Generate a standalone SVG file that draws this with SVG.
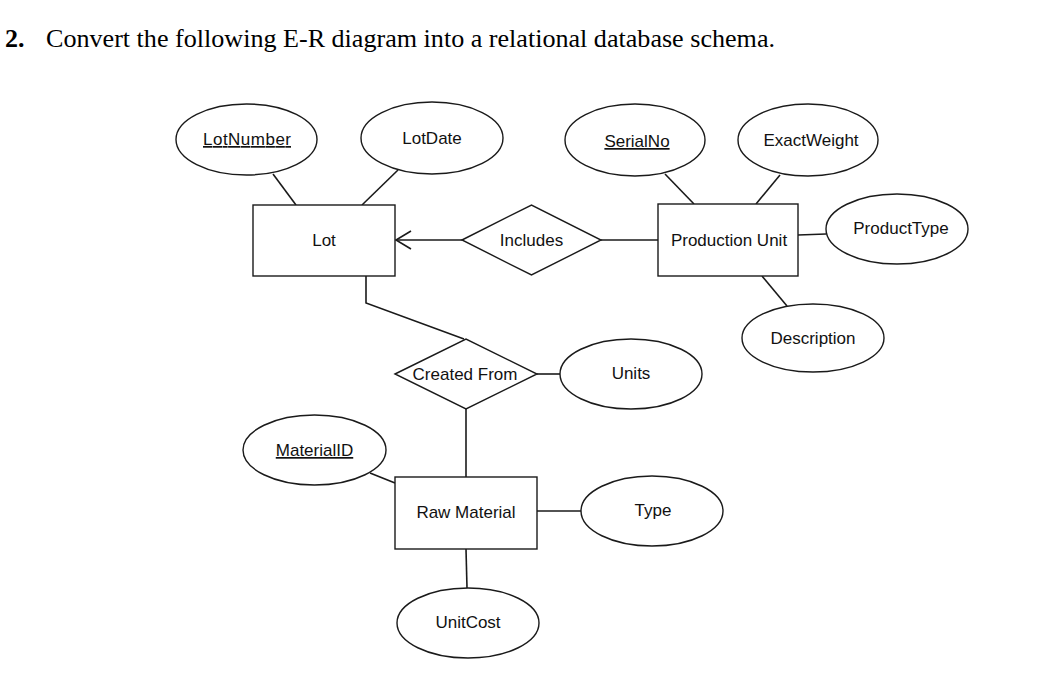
<svg xmlns="http://www.w3.org/2000/svg" width="1054" height="679" viewBox="0 0 1054 679">
<style>
.s{fill:#fff;stroke:#1a1a1a;stroke-width:1.4}
.c{fill:none;stroke:#1a1a1a;stroke-width:1.6}
.t{font-family:"Liberation Sans",Arial,sans-serif;font-size:17px;fill:#111;text-anchor:middle}
.u{text-decoration:underline}
.h{font-family:"Liberation Serif","Times New Roman",serif;font-size:26px;fill:#000}
</style>
<rect width="1054" height="679" fill="#fff"/>
<text class="h" x="5" y="47"><tspan font-weight="bold">2.</tspan></text>
<text class="h" x="46" y="47" textLength="729" lengthAdjust="spacingAndGlyphs">Convert the following E-R diagram into a relational database schema.</text>
<g id="connectors">
<line class="c" x1="273" y1="174" x2="296" y2="205"/>
<line class="c" x1="398" y1="170" x2="362" y2="205"/>
<line class="c" x1="462" y1="240" x2="396" y2="240"/>
<polyline class="c" points="411,231 396,240 411,249"/>
<line class="c" x1="601" y1="240" x2="658" y2="240"/>
<line class="c" x1="665" y1="174" x2="694" y2="204"/>
<line class="c" x1="780" y1="175" x2="756" y2="204"/>
<line class="c" x1="798" y1="235" x2="826" y2="234"/>
<line class="c" x1="762" y1="276" x2="787" y2="306"/>
<polyline class="c" points="366,276 366,303 464,339"/>
<line class="c" x1="537" y1="374" x2="560" y2="374"/>
<line class="c" x1="466" y1="409" x2="466" y2="477"/>
<line class="c" x1="370" y1="473" x2="395" y2="483"/>
<line class="c" x1="537" y1="511" x2="582" y2="511"/>
<line class="c" x1="466" y1="549" x2="467" y2="588"/>
</g>
<g id="LotNumber"><ellipse class="s" cx="246.5" cy="139.5" rx="70.5" ry="35.5"/><text class="t u" x="247" y="145" textLength="88">LotNumber</text></g>
<g id="LotDate"><ellipse class="s" cx="432" cy="138" rx="71" ry="36"/><text class="t" x="432" y="144">LotDate</text></g>
<g id="Lot"><rect class="s" x="253" y="205" width="142" height="71"/><text class="t" x="324" y="246">Lot</text></g>
<g id="Includes"><polygon class="s" points="462,240 531.5,205 601,240 531.5,275"/><text class="t" x="531.5" y="246">Includes</text></g>
<g id="SerialNo"><ellipse class="s" cx="635" cy="140" rx="70" ry="36"/><text class="t u" x="637" y="147">SerialNo</text></g>
<g id="ExactWeight"><ellipse class="s" cx="808" cy="140" rx="70" ry="36"/><text class="t" x="811" y="146">ExactWeight</text></g>
<g id="ProductionUnit"><rect class="s" x="658" y="204" width="140" height="72"/><text class="t" x="729" y="246">Production Unit</text></g>
<g id="ProductType"><ellipse class="s" cx="897" cy="229" rx="71" ry="35"/><text class="t" x="901" y="234">ProductType</text></g>
<g id="Description"><ellipse class="s" cx="813" cy="338" rx="71" ry="34"/><text class="t" x="813" y="344">Description</text></g>
<g id="CreatedFrom"><polygon class="s" points="395,374 466,339 537,374 466,409"/><text class="t" x="465" y="380">Created From</text></g>
<g id="Units"><ellipse class="s" cx="631" cy="374" rx="71" ry="35"/><text class="t" x="631" y="379">Units</text></g>
<g id="MaterialID"><ellipse class="s" cx="314.5" cy="450" rx="71.5" ry="35"/><text class="t u" x="314.5" y="456">MaterialID</text></g>
<g id="RawMaterial"><rect class="s" x="395" y="477" width="142" height="72"/><text class="t" x="466" y="518">Raw Material</text></g>
<g id="Type"><ellipse class="s" cx="652" cy="511" rx="71" ry="35"/><text class="t" x="653" y="516">Type</text></g>
<g id="UnitCost"><ellipse class="s" cx="468" cy="623" rx="71" ry="35"/><text class="t" x="468" y="628">UnitCost</text></g>
</svg>
